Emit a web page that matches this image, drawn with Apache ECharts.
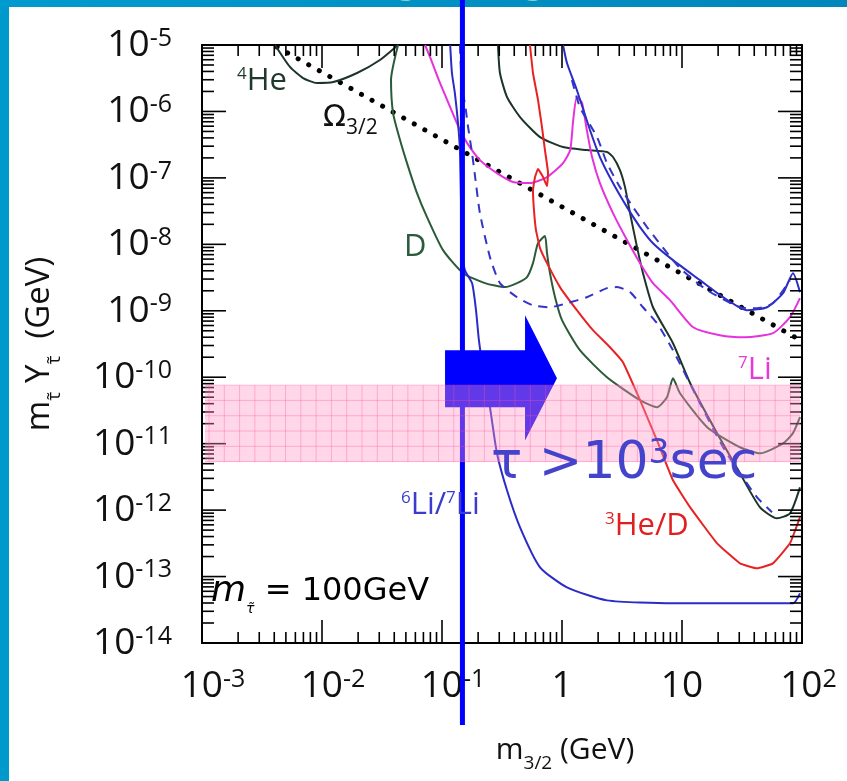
<!DOCTYPE html>
<html><head><meta charset="utf-8">
<script src="https://cdn.jsdelivr.net/npm/echarts@6/dist/echarts.min.js"></script>
<style>html,body{margin:0;padding:0;background:#fff}#c{width:847px;height:781px}</style>
</head><body><div id="c"></div>
<script>
// ---------- data ----------
const xRange = [1e-3, 1e2];
const yRange = [1e-14, 1e-5];
const xDecades = [1e-3, 1e-2, 1e-1, 1, 10, 100];
const yDecades = [1e-14, 1e-13, 1e-12, 1e-11, 1e-10, 1e-9, 1e-8, 1e-7, 1e-6, 1e-5];
const minorMultipliers = [2, 3, 4, 5, 6, 7, 8, 9];

const he4Left = [[4.06e-3,1e-5],[5.41e-3,4.67e-6],[6.95e-3,3.18e-6],[9.08e-3,2.68e-6],[1.24e-2,2.77e-6],[1.96e-2,3.79e-6],[3.04e-2,5.94e-6],[4.30e-2,1e-5]];
const he4Right = [[0.293,1e-5],[0.304,3.79e-6],[0.348,1.65e-6],[0.447,8.24e-7],[0.656,4.11e-7],[1.02,2.91e-7],[1.61,2.62e-7],[2.37,2.45e-7],[2.66,2.06e-7],[3.04,1.31e-7],[3.35,7.26e-8],[3.69,2.95e-8],[4.22,9.08e-9],[4.73,3.68e-9],[5.73,1.13e-9],[8.41,3.25e-10],[11.7,8.13e-11],[19.6,1.44e-11],[30.4,3.58e-12],[44.7,1.10e-12],[61.9,7.53e-13],[79.4,8.95e-13],[96.2,2.20e-12]];
const dCurve = [[4.30e-2,1e-5],[3.76e-2,2.97e-6],[3.91e-2,9.46e-7],[4.47e-2,3.71e-7],[5.11e-2,1.67e-7],[6.19e-2,5.90e-8],[7.50e-2,2.57e-8],[0.102,8.18e-9],[0.150,3.68e-9],[0.228,2.61e-9],[0.335,2.27e-9],[0.422,2.61e-9],[0.511,3.21e-9],[0.573,5.21e-9],[0.631,1.04e-8],[0.721,1.33e-8],[0.750,7.37e-9],[0.794,3.68e-9],[0.875,1.60e-9],[1.0,7.22e-10],[1.41,2.55e-10],[2.37,1e-10],[4.47,4.51e-11],[6.19,3.53e-11],[7.50,5.00e-11],[8.41,9.66e-11],[9.62,5.74e-11],[16.2,1.77e-11],[30.4,8.83e-12],[44.7,7.17e-12],[69.5,1.01e-11],[84.1,1.44e-11],[96.2,2.50e-11]];
const omega32 = [[4.22e-3,9.33e-6],[1.24,2.95e-8],[87.5,4.0e-10]];
const li7 = [[7.22e-2,1e-5],[7.94e-2,6.60e-6],[9.62e-2,2.68e-6],[0.117,1.16e-6],[0.141,5.25e-7],[0.162,3.34e-7],[0.207,1.85e-7],[0.287,1.18e-7],[0.391,8.65e-8],[0.541,8.35e-8],[0.750,1.03e-7],[1.02,1.67e-7],[1.17,2.62e-7],[1.24,7.42e-7],[1.33,1.65e-6],[1.47,1.34e-6],[1.61,5.25e-7],[1.78,2.06e-7],[2.07,8.35e-8],[2.66,2.95e-8],[3.48,1.16e-8],[4.47,5.21e-9],[5.73,2.61e-9],[7.94,1.45e-9],[12.4,5.66e-10],[20.7,4.29e-10],[33.5,4.00e-10],[57.3,4.60e-10],[79.4,8.01e-10],[96.2,1.55e-9]];
const he3d = [[0.541,1e-5],[0.573,3.79e-6],[0.631,1.49e-6],[0.681,5.82e-7],[0.721,2.62e-7],[0.765,1.18e-7],[0.750,7.53e-8],[0.695,1.03e-7],[0.631,1.36e-7],[0.596,1.03e-7],[0.573,6.55e-8],[0.584,3.27e-8],[0.607,1.64e-8],[0.656,8.77e-9],[0.750,5.21e-9],[0.962,2.27e-9],[1.33,1.02e-9],[1.81,5.10e-10],[2.51,2.83e-10],[3.22,1.68e-10],[4.47,4.51e-11],[6.19,1.12e-11],[8.41,2.81e-12],[11.7,1.10e-12],[19.6,3.16e-13],[30.4,1.58e-13],[42.2,1.33e-13],[57.3,1.58e-13],[79.4,3.16e-13],[96.2,7.80e-13]];
const li6Lower = [[0.117,1e-5],[0.121,3.79e-6],[0.128,1.89e-6],[0.136,6.69e-7],[0.141,2.62e-7],[0.144,4.63e-8],[0.147,8.18e-9],[0.155,4.09e-9],[0.178,2.61e-9],[0.192,1.02e-9],[0.203,3.61e-10],[0.224,1.07e-10],[0.251,3.53e-11],[0.287,7.17e-12],[0.348,1.99e-12],[0.447,5.51e-13],[0.656,1.38e-13],[1.10,6.87e-14],[2.37,4.38e-14],[8.41,3.95e-14],[30.4,3.95e-14],[84.1,3.95e-14],[96.2,5.58e-14]];
const li6Upper = [[1.02,1e-5],[1.10,5.36e-6],[1.33,2.10e-6],[1.71,5.25e-7],[2.07,2.06e-7],[2.66,8.35e-8],[3.48,3.63e-8],[4.47,1.82e-8],[5.73,1.04e-8],[8.41,5.78e-9],[14.1,2.89e-9],[22.0,1.60e-9],[34.8,1.02e-9],[51.1,1.13e-9],[69.5,1.84e-9],[84.1,3.68e-9],[96.2,1.91e-9]];
const dashUpper = [[1.21,2.97e-6],[1.41,1.16e-6],[1.96,4.11e-7],[2.37,1.67e-7],[3.04,7.26e-8],[3.91,3.63e-8],[5.11,1.82e-8],[6.19,1.16e-8],[9.62,4.38e-9],[16.2,2.04e-9],[30.4,1.13e-9],[42.2,1.09e-9],[57.3,1.30e-9],[79.4,2.89e-9]];
const dashLower = [[0.141,1e-5],[0.147,2.10e-6],[0.155,1.34e-6],[0.165,5.82e-7],[0.178,2.36e-7],[0.188,1.10e-7],[0.207,2.95e-8],[0.251,6.41e-9],[0.304,2.61e-9],[0.422,1.60e-9],[0.573,1.21e-9],[0.794,1.13e-9],[1.10,1.30e-9],[1.61,1.60e-9],[2.37,2.19e-9],[2.87,2.27e-9],[3.69,1.91e-9],[4.73,1.13e-9],[6.19,6.50e-10],[8.41,2.55e-10],[14.1,4.06e-11],[22.0,8.83e-12],[30.4,3.58e-12],[42.2,1.56e-12],[56.2,9.27e-13]];

const bandX = [1e-3, 1e2];
const bandY = [7.6e-11, 5.3e-12];
const arrowX = [0.106, 0.492, 0.908];          // tail, head base, tip
const arrowShaftY = [2.55e-10, 3.53e-11];
const arrowHeadY = [8.59e-10, 1.12e-11];
const arrowTipY = 9.66e-11;
const vLineX = 0.148;

// ---------- build ----------
const xMinor = [], yMinor = [];
xDecades.slice(0,-1).forEach(d => minorMultipliers.forEach(m => xMinor.push([d*m, yRange[0], 11])));
yDecades.slice(0,-1).forEach(d => minorMultipliers.forEach(m => yMinor.push([xRange[0], d*m, 12])));
xDecades.forEach(d => xMinor.push([d, yRange[0], 23]));
yDecades.forEach(d => yMinor.push([xRange[0], d, 24]));

const chart = echarts.init(document.getElementById('c'), null, {renderer:'canvas'});
const LBL = 'Open Sans';
const axisCommon = {
  type:'log', logBase:10,
  axisLine:{show:true, onZero:false, lineStyle:{color:'#000', width:2}},
  axisTick:{show:false},
  splitLine:{show:false}, minorTick:{show:false}, minorSplitLine:{show:false}
};
const supRich = {
  b:{fontFamily:LBL, fontSize:37, color:'#111', lineHeight:38, verticalAlign:'bottom'},
  s:{fontFamily:LBL, fontSize:25, color:'#111', lineHeight:24, verticalAlign:'top'},
  pn:{width:22}, pq:{width:13}
};

function lineSeries(data, color, extra){
  return Object.assign({type:'line', data, showSymbol:false, symbol:'none', smooth:0.2,
    lineStyle:{color, width:2}, z:2, silent:true, animation:false}, extra||{});
}

const option = {
  animation:false,
  backgroundColor:'#fff',
  grid:{left:202, right:45, top:45, bottom:138, containLabel:false},
  xAxis:[
    Object.assign({}, axisCommon, {min:xRange[0], max:xRange[1], splitNumber:5, position:'bottom',
      axisLabel:{margin:24, formatter:v=>{const e=Math.round(Math.log10(v)); if(e===0) return '{b|1}'; if(e===1) return '{b|10}'; return '{'+(e<0?'pn':'pq')+'|}{b|10}{s|'+e+'}';}, rich:supRich},
      name:'{n|m}{sb|3/2}{n| (GeV)}', nameLocation:'middle', nameGap:92,
      nameTextStyle:{padding:[0,0,0,126], rich:{n:{fontFamily:LBL,fontSize:30,color:'#111'}, sb:{fontFamily:LBL,fontSize:19,color:'#111',verticalAlign:'bottom',padding:[0,0,-8,0]}}}}),
    Object.assign({}, axisCommon, {min:xRange[0], max:xRange[1], splitNumber:5, position:'top', axisLabel:{show:false}})
  ],
  yAxis:[
    Object.assign({}, axisCommon, {min:yRange[0], max:yRange[1], splitNumber:9, position:'left',
      axisLabel:{margin:30, formatter:v=>{const e=Math.round(Math.log10(v)); return '{b|10}{s|'+e+'}';}, rich:supRich},
      name:'{n|m}{sb|τ̃}{n| Y}{sb|τ̃}{n|  (GeV)}', nameLocation:'middle', nameGap:146, nameRotate:90,
      nameTextStyle:{rich:{n:{fontFamily:LBL,fontSize:33,color:'#111'}, sb:{fontFamily:LBL,fontSize:19,color:'#111',verticalAlign:'bottom',padding:[0,0,-8,0]}}}}),
    Object.assign({}, axisCommon, {min:yRange[0], max:yRange[1], splitNumber:9, position:'right', axisLabel:{show:false}})
  ],
  series:[
    lineSeries(omega32, '#000', {smooth:false, lineStyle:{color:'#000', width:5, type:[0.1,12], cap:'round'}}),
    lineSeries(he4Left, '#1c3528'),
    lineSeries(he4Right, '#1c3528'),
    lineSeries(dCurve, '#2a5a38'),
    lineSeries(li7, '#e632dc'),
    lineSeries(he3d, '#e82222', {smooth:0.1}),
    lineSeries(li6Lower, '#2b2bc8'),
    lineSeries(li6Upper, '#2b2bc8'),
    lineSeries(dashUpper, '#3434c8', {lineStyle:{color:'#3434c8', width:2, type:[9,7]}}),
    lineSeries(dashLower, '#3434c8', {lineStyle:{color:'#3434c8', width:2, type:[9,7]}}),
    // ticks x (bottom + top)
    {type:'custom', silent:true, z:4, animation:false, clip:false, data:xMinor, encode:{x:0,y:1},
      renderItem:(p, api)=>{
        const L = api.value(2);
        const b = api.coord([api.value(0), yRange[0]]);
        const t = api.coord([api.value(0), yRange[1]]);
        return {type:'group', children:[
          {type:'line', shape:{x1:b[0],y1:b[1],x2:b[0],y2:b[1]-L}, style:{stroke:'#000',lineWidth:1.6}},
          {type:'line', shape:{x1:t[0],y1:t[1],x2:t[0],y2:t[1]+L}, style:{stroke:'#000',lineWidth:1.6}}]};
      }},
    // ticks y (left + right)
    {type:'custom', silent:true, z:4, animation:false, clip:false, data:yMinor, encode:{x:0,y:1},
      renderItem:(p, api)=>{
        const L = api.value(2);
        const l = api.coord([xRange[0], api.value(1)]);
        const r = api.coord([xRange[1], api.value(1)]);
        return {type:'group', children:[
          {type:'line', shape:{x1:l[0],y1:l[1],x2:l[0]+L,y2:l[1]}, style:{stroke:'#000',lineWidth:1.6}},
          {type:'line', shape:{x1:r[0],y1:r[1],x2:r[0]-L,y2:r[1]}, style:{stroke:'#000',lineWidth:1.6}}]};
      }},
    // vertical thick line
    {type:'custom', silent:true, z:3, animation:false, clip:false, data:[[vLineX, 1e-10]], encode:{x:0,y:1},
      renderItem:(p, api)=>{
        const b = api.coord([api.value(0), yRange[0]]);
        return {type:'line', shape:{x1:b[0],y1:0,x2:b[0],y2:b[1]+82}, style:{stroke:'#0000ff',lineWidth:5}};
      }},
    // arrow
    {type:'custom', silent:true, z:3, animation:false, data:[[arrowX[0], arrowShaftY[0], arrowX[1], arrowShaftY[1], arrowX[2], arrowTipY, arrowHeadY[0], arrowHeadY[1]]],
      encode:{x:[0,2,4], y:[1,3,5]},
      renderItem:(p, api)=>{
        const c = (x,y)=>api.coord([x,y]);
        const x0=api.value(0), sy0=api.value(1), x1=api.value(2), sy1=api.value(3), xt=api.value(4), ty=api.value(5), hy0=api.value(6), hy1=api.value(7);
        return {type:'polygon', shape:{points:[c(x0,sy0),c(x1,sy0),c(x1,hy0),c(xt,ty),c(x1,hy1),c(x1,sy1),c(x0,sy1)]}, style:{fill:'#0000ff'}};
      }},
    // pink band
    {type:'custom', silent:true, z:5, animation:false, data:[[bandX[0], bandY[0], bandX[1], bandY[1]]], encode:{x:[0,2], y:[1,3]},
      renderItem:(p, api)=>{
        const p0 = api.coord([api.value(0), api.value(1)]);
        const p1 = api.coord([api.value(2), api.value(3)]);
        const x=p0[0]+3, y=p0[1], w=p1[0]-p0[0]-5, h=p1[1]-p0[1];
        const ch=[{type:'rect', shape:{x,y,width:w,height:h}, style:{fill:'rgba(255,150,195,0.38)'}}];
        for(let gx=x+4; gx<x+w; gx+=15.3) ch.push({type:'line', shape:{x1:gx,y1:y,x2:gx,y2:y+h}, style:{stroke:'rgba(255,80,165,0.35)',lineWidth:1}});
        for(let gy=y; gy<=y+h+0.5; gy+=15.3) ch.push({type:'line', shape:{x1:x,y1:gy,x2:x+w,y2:gy}, style:{stroke:'rgba(255,80,165,0.35)',lineWidth:1}});
        return {type:'group', children:ch};
      }}
  ],
  graphic:[
    {type:'rect', z:0, silent:true, shape:{x:0,y:0,width:9,height:781}, style:{fill:'#0099cc'}},
    {type:'rect', z:0, silent:true, shape:{x:0,y:0,width:847,height:7}, style:{fill:new echarts.graphic.LinearGradient(0,0,1,0,[{offset:0,color:'#009bce'},{offset:1,color:'#0086ba'}])}},
    {type:'text', z:10, silent:true, x:432, y:12, style:{text:'Lifetime', fill:'#ffffc0', font:'bold 50px "DejaVu Sans"', align:'center', verticalAlign:'bottom'}},
    {type:'text', z:20, silent:true, left:237, top:66, style:{text:'{s|4}{t|He}', rich:{s:{fontFamily:LBL,fontSize:17,fill:'#1f3a2c',verticalAlign:'top'}, t:{fontFamily:LBL,fontSize:31,fill:'#1f3a2c'}}}},
    {type:'text', z:20, silent:true, left:323, top:103, style:{text:'{t|Ω}{s|3/2}', rich:{t:{fontFamily:'DejaVu Sans',fontSize:30,fill:'#111'}, s:{fontFamily:LBL,fontSize:21,fill:'#111',verticalAlign:'bottom',padding:[0,0,-6,0]}}}},
    {type:'text', z:20, silent:true, left:404, top:232, style:{text:'D', fontFamily:LBL, fontSize:31, fill:'#2a5c3c'}},
    {type:'text', z:20, silent:true, left:738, top:355, style:{text:'{s|7}{t|Li}', rich:{s:{fontFamily:LBL,fontSize:17,fill:'#e838d8',verticalAlign:'top'}, t:{fontFamily:LBL,fontSize:31,fill:'#e838d8'}}}},
    {type:'text', z:20, silent:true, left:401, top:490, style:{text:'{s|6}{t|Li/}{s|7}{t|Li}', rich:{s:{fontFamily:LBL,fontSize:17,fill:'#3b3bd0',verticalAlign:'top'}, t:{fontFamily:LBL,fontSize:31,fill:'#3b3bd0'}}}},
    {type:'text', z:20, silent:true, left:605, top:511, style:{text:'{s|3}{t|He/D}', rich:{s:{fontFamily:LBL,fontSize:17,fill:'#e02020',verticalAlign:'top'}, t:{fontFamily:LBL,fontSize:31,fill:'#e02020'}}}},
    {type:'text', z:20, silent:true, left:211, top:574, style:{text:'{m|m}{s|τ̃}{t| = 100GeV}', rich:{m:{fontFamily:'DejaVu Sans',fontStyle:'italic',fontSize:36,fill:'#000'}, s:{fontFamily:'DejaVu Sans',fontStyle:'italic',fontSize:14,fill:'#000',verticalAlign:'bottom',padding:[0,0,-6,0]}, t:{fontFamily:'DejaVu Sans',fontSize:32,fill:'#000'}}}},
    {type:'text', z:30, silent:true, left:491, top:438, style:{text:'{t|τ >10}{s|3}{t|sec}', rich:{t:{fontFamily:'DejaVu Sans',fontSize:52,fill:'#4343cc'}, s:{fontFamily:'DejaVu Sans',fontSize:33,fill:'#4343cc',verticalAlign:'top'}}}}
  ]
};
chart.setOption(option);
</script>
</body></html>
